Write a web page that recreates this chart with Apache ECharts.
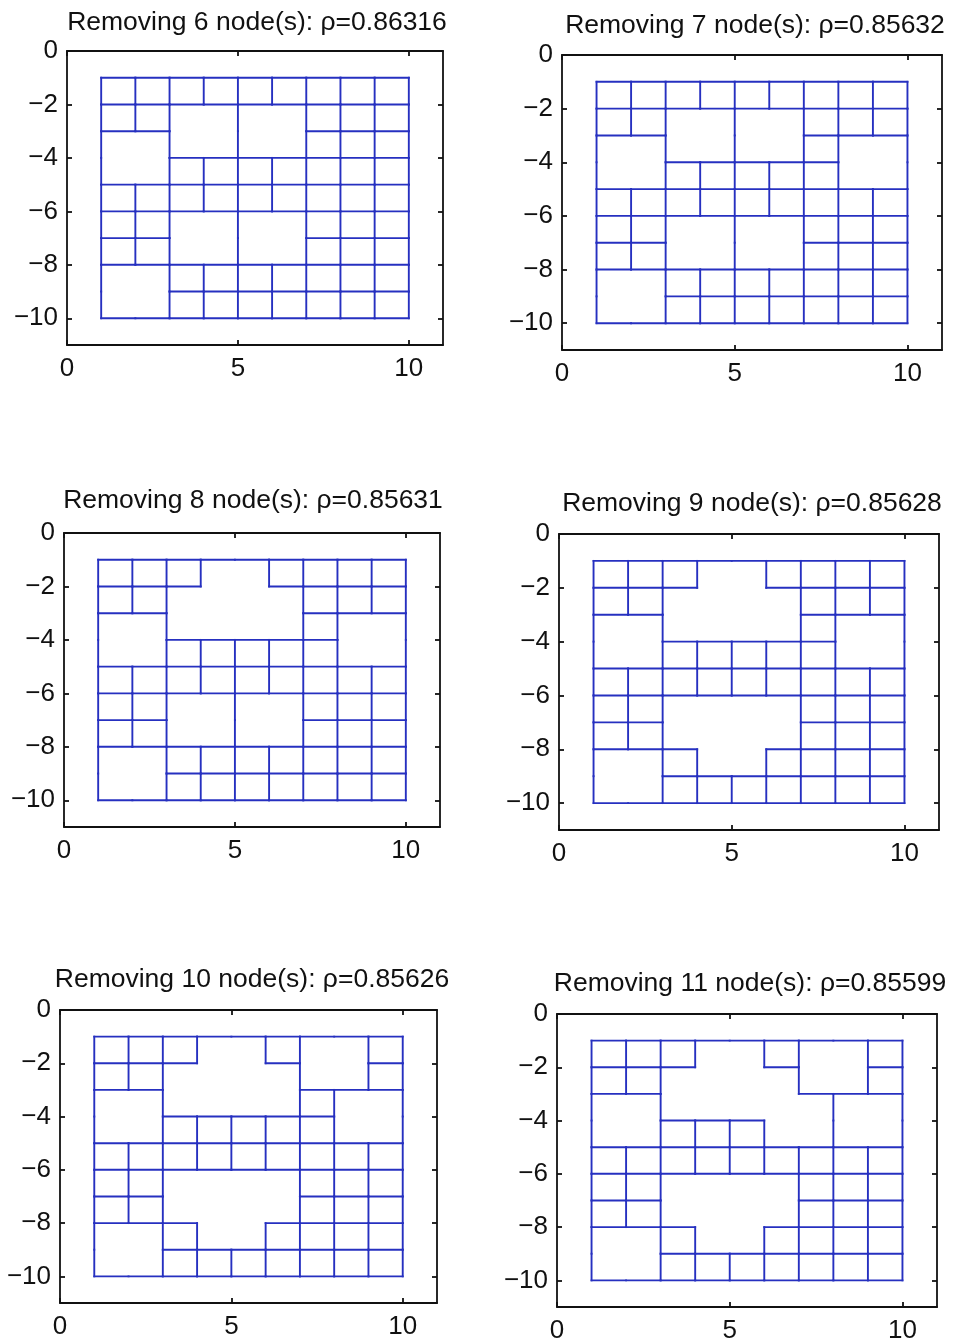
<!DOCTYPE html>
<html>
<head>
<meta charset="utf-8">
<script src="https://cdn.jsdelivr.net/npm/echarts@6/dist/echarts.min.js"></script>
<style>
html,body{margin:0;padding:0;background:#fff;}
#chart{width:954px;height:1344px;}
</style>
</head>
<body>
<div id="chart"></div>
<script>
// ---------- DATA ----------
const titles = [
  'Removing 6 node(s): \u03C1=0.86316',
  'Removing 7 node(s): \u03C1=0.85632',
  'Removing 8 node(s): \u03C1=0.85631',
  'Removing 9 node(s): \u03C1=0.85628',
  'Removing 10 node(s): \u03C1=0.85626',
  'Removing 11 node(s): \u03C1=0.85599'
];
const xTicks = [0, 5, 10];
const yTicks = [0, -2, -4, -6, -8, -10];
const xRange = [0, 11];
const yRange = [-11, 0];
// cell grid origin (top-left corner of the 9x9 cell grid) and cell size in data units
const cellOrigin = [1, -1];
const cellSize = 1;
// Partition maps: '.' = single cell, same letter = merged region
const partition6 = [
  '.........',
  '..AABB...',
  'CCAABB...',
  'CC.......',
  '.........',
  '..DDEE...',
  '..DDEE...',
  'FF.......',
  'FF.......'
];
const partition7 = [
  '.........',
  '..AABB...',
  'CCAABB.GG',
  'CC.....GG',
  '.........',
  '..DDEE...',
  '..DDEE...',
  'FF.......',
  'FF.......'
];
const partition8 = [
  '...AA....',
  '..AAAA...',
  'CCAAAA.GG',
  'CC.....GG',
  '.........',
  '..DDEE...',
  '..DDEE...',
  'FF.......',
  'FF.......'
];
const partition9 = [
  '...AA....',
  '..AAAA...',
  'CCAAAA.GG',
  'CC.....GG',
  '.........',
  '..DDDD...',
  '..DDDD...',
  'FF.DD....',
  'FF.......'
];
const partition10 = [
  '...AA.HH.',
  '..AAAAHH.',
  'CCAAAA.GG',
  'CC.....GG',
  '.........',
  '..DDDD...',
  '..DDDD...',
  'FF.DD....',
  'FF.......'
];
const partition11 = [
  '...AA.HH.',
  '..AAAAHH.',
  'CCAAAAAGG',
  'CC...AAGG',
  '.........',
  '..DDDD...',
  '..DDDD...',
  'FF.DD....',
  'FF.......'
];
const partitions = [partition6, partition7, partition8, partition9, partition10, partition11];

// ---------- LAYOUT / STYLE ----------
const layout = [
  {left: 67,  top: 51,   width: 376, height: 294, tx: 257, ty: 23},
  {left: 562, top: 55,   width: 380, height: 295, tx: 755, ty: 26},
  {left: 64,  top: 533,  width: 376, height: 294, tx: 253, ty: 501},
  {left: 559, top: 534,  width: 380, height: 296, tx: 752, ty: 504},
  {left: 60,  top: 1010, width: 377, height: 293, tx: 252, ty: 980},
  {left: 557, top: 1014, width: 380, height: 293, tx: 750, ty: 984}
];
const FONT = '"Liberation Sans", Arial, Helvetica, sans-serif';
const BLUE = '#2630c0';
const BLACK = '#111';
const FS_TICK = 26;
const FS_TITLE = 26.5;

function differ(a, b) { return a === '.' || b === '.' || a !== b; }

function edgesOf(part) {
  const rows = part.length, cols = part[0].length;
  const segs = [];
  const X = c => cellOrigin[0] + c * cellSize;
  const Y = r => cellOrigin[1] - r * cellSize;
  for (let r = 0; r < rows; r++) {
    for (let c = 0; c <= cols; c++) {
      if (c === 0 || c === cols || differ(part[r][c - 1], part[r][c])) {
        segs.push([X(c), Y(r), X(c), Y(r + 1)]);
      }
    }
  }
  for (let r = 0; r <= rows; r++) {
    for (let c = 0; c < cols; c++) {
      if (r === 0 || r === rows || differ(part[r - 1][c], part[r][c])) {
        segs.push([X(c), Y(r), X(c + 1), Y(r)]);
      }
    }
  }
  return segs;
}

const minus = v => String(v).replace('-', '\u2212');

const grid = [], xAxis = [], yAxis = [], series = [], graphic = [];
layout.forEach((L, i) => {
  grid.push({left: L.left, top: L.top, width: L.width, height: L.height, containLabel: false});
  const lineStyle = {color: BLACK, width: 1.8};
  xAxis.push({
    type: 'value', gridIndex: i, min: xRange[0], max: xRange[1], position: 'bottom',
    axisLine: {show: true, onZero: false, lineStyle},
    axisTick: {show: true, inside: true, length: 5, lineStyle, customValues: xTicks},
    axisLabel: {show: true, customValues: xTicks, margin: 11, color: BLACK, fontSize: FS_TICK, fontFamily: FONT, formatter: minus},
    splitLine: {show: false}
  });
  xAxis.push({
    type: 'value', gridIndex: i, min: xRange[0], max: xRange[1], position: 'top',
    axisLine: {show: true, onZero: false, lineStyle},
    axisTick: {show: true, inside: true, length: 5, lineStyle, customValues: xTicks},
    axisLabel: {show: false},
    splitLine: {show: false}
  });
  yAxis.push({
    type: 'value', gridIndex: i, min: yRange[0], max: yRange[1], position: 'left',
    axisLine: {show: true, onZero: false, lineStyle},
    axisTick: {show: true, inside: true, length: 5, lineStyle, customValues: yTicks},
    axisLabel: {show: true, customValues: yTicks, margin: 9, color: BLACK, fontSize: FS_TICK, fontFamily: FONT, formatter: minus},
    splitLine: {show: false}
  });
  yAxis.push({
    type: 'value', gridIndex: i, min: yRange[0], max: yRange[1], position: 'right',
    axisLine: {show: true, onZero: false, lineStyle},
    axisTick: {show: true, inside: true, length: 5, lineStyle, customValues: yTicks},
    axisLabel: {show: false},
    splitLine: {show: false}
  });
  series.push({
    type: 'custom',
    xAxisIndex: 2 * i,
    yAxisIndex: 2 * i,
    data: edgesOf(partitions[i]),
    dimensions: ['x1', 'y1', 'x2', 'y2'],
    encode: {x: [0, 2], y: [1, 3]},
    silent: true,
    renderItem: function (params, api) {
      const p1 = api.coord([api.value(0), api.value(1)]);
      const p2 = api.coord([api.value(2), api.value(3)]);
      return {
        type: 'line',
        shape: {x1: p1[0], y1: p1[1], x2: p2[0], y2: p2[1]},
        style: {stroke: BLUE, lineWidth: 1.9, lineCap: 'square'}
      };
    }
  });
  graphic.push({
    type: 'text', x: L.tx, y: L.ty,
    style: {text: titles[i], fill: BLACK, font: FS_TITLE + 'px ' + FONT, textAlign: 'center', textVerticalAlign: 'middle'}
  });
});

const chart = echarts.init(document.getElementById('chart'), null, {renderer: 'canvas'});
chart.setOption({
  animation: false,
  backgroundColor: '#fff',
  grid, xAxis, yAxis, series, graphic
});
</script>
</body>
</html>
